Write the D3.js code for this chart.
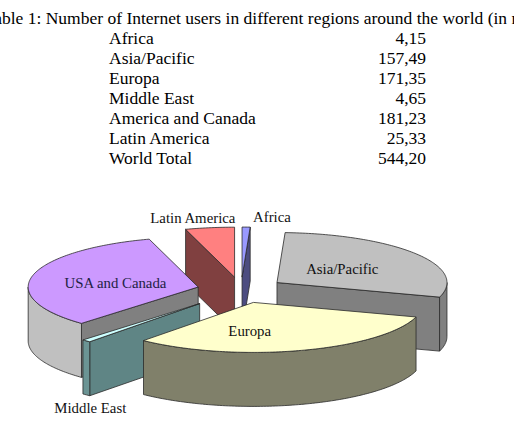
<!DOCTYPE html>
<html>
<head>
<meta charset="utf-8">
<script src="https://cdn.jsdelivr.net/npm/d3@7"></script>
<style>
  html, body { margin: 0; padding: 0; background: #fff; overflow: hidden; }
  svg { display: block; }
</style>
</head>
<body>
<svg id="chart" width="514" height="428"></svg>
<script>
// ---------- data ----------
const titleText = "Table 1: Number of Internet users in different regions around the world (in millions)";
const tableRegions = ["Africa", "Asia/Pacific", "Europa", "Middle East", "America and Canada", "Latin America", "World Total"];
const tableValues = ["4,15", "157,49", "171,35", "4,65", "181,23", "25,33", "544,20"];
const sliceNames = ["Africa", "Asia/Pacific", "Europa", "Middle East", "USA and Canada", "Latin America"];
const sliceValues = [4.15, 157.49, 171.35, 4.65, 181.23, 25.33];

// ---------- styles ----------
const topColors   = ["#9999FF", "#C0C0C0", "#FFFFCC", "#CCFFFF", "#CC99FF", "#FF8080"];
const radColors   = ["#4C4C80", "#808080", "#80806A", "#5F8585", "#808080", "#804040"];
const wallColors  = ["#4C4C80", "#808080", "#80806A", "#6B9494", "#C0C0C0", "#804040"];
const explode     = [44, 44, 44, 62, 44, 44];
const labelR      = [1.2, 0.47, 0.59, 1.0, 0.5, 1.2];
const labelDx     = [25, 0, -32, 4, 0, -12];
const labelDy     = [0, 0, 0, 67, 2, 0];
const labelColor  = ["#111", "#111", "#111", "#111", "#222244", "#111"];

const svg = d3.select("#chart");
const serif = "'Liberation Serif', 'Times New Roman', serif";
const tableFont = 17.5;

// ---------- table ----------
const title = svg.append("text")
  .attr("y", 24).attr("font-family", serif).attr("font-size", tableFont).attr("fill", "#000");
const tmp = svg.append("text").attr("font-family", serif).attr("font-size", tableFont).text("Ta");
const taW = tmp.node().getComputedTextLength();
tmp.remove();
title.attr("x", 2 - taW).text(titleText);

const rowY = d3.scaleLinear().domain([0, 1]).range([44, 64]);
svg.append("g").selectAll("text").data(tableRegions).join("text")
  .attr("x", 109).attr("y", (d, i) => rowY(i))
  .attr("font-family", serif).attr("font-size", tableFont).attr("fill", "#000")
  .text(d => d);
svg.append("g").selectAll("text").data(tableValues).join("text")
  .attr("x", 426).attr("y", (d, i) => rowY(i)).attr("text-anchor", "end")
  .attr("font-family", serif).attr("font-size", tableFont).attr("fill", "#000")
  .text(d => d);

// ---------- 3D pie ----------
const cx = 241, cy = 290, rx = 170, ry = 50, depth = 54;
const pie = d3.pie().sort(null).value(d => d);
const arcs = pie(sliceValues);

const px = (a, r) => r * rx * Math.sin(a);
const py = (a, r) => -r * ry * Math.cos(a);

const slices = arcs.map((d, i) => {
  const mid = (d.startAngle + d.endAngle) / 2;
  const ox = cx + explode[i] * Math.sin(mid);
  const oy = cy - explode[i] * (ry / rx) * Math.cos(mid);
  const a1 = d.startAngle, a2 = d.endAngle;
  const n = Math.max(2, Math.ceil((a2 - a1) / (Math.PI / 180)));
  const arcPts = d3.range(n + 1).map(k => {
    const a = a1 + (a2 - a1) * k / n;
    return [ox + px(a, 1), oy + py(a, 1)];
  });
  const front = d3.max(arcPts, p => p[1]);
  return { i, a1, a2, mid, ox, oy, arcPts, front };
});

const g = svg.append("g");
const stroke = "#2a2a2a", sw = 0.8;
const poly = pts => "M" + pts.map(p => p[0].toFixed(2) + "," + p[1].toFixed(2)).join("L") + "Z";

slices.slice().sort((a, b) => a.front - b.front).forEach(s => {
  const i = s.i;
  const P = [s.ox, s.oy];
  // radial faces (back-face culled)
  [[s.a1, s.a1 - Math.PI / 2], [s.a2, s.a2 + Math.PI / 2]].forEach(([a, nrm]) => {
    if (-Math.cos(nrm) > 1e-6) {
      const O = [s.ox + px(a, 1), s.oy + py(a, 1)];
      g.append("path")
        .attr("d", poly([P, O, [O[0], O[1] + depth], [P[0], P[1] + depth]]))
        .attr("fill", radColors[i]).attr("stroke", stroke).attr("stroke-width", sw)
        .attr("stroke-linejoin", "round");
    }
  });
  // outer wall, front half only
  const w1 = Math.max(s.a1, Math.PI / 2), w2 = Math.min(s.a2, 3 * Math.PI / 2);
  if (w2 > w1) {
    const m = Math.max(2, Math.ceil((w2 - w1) / (Math.PI / 180)));
    const topPts = d3.range(m + 1).map(k => {
      const a = w1 + (w2 - w1) * k / m;
      return [s.ox + px(a, 1), s.oy + py(a, 1)];
    });
    const botPts = topPts.map(p => [p[0], p[1] + depth]).reverse();
    g.append("path")
      .attr("d", poly(topPts.concat(botPts)))
      .attr("fill", wallColors[i]).attr("stroke", stroke).attr("stroke-width", sw)
      .attr("stroke-linejoin", "round");
  }
  // top face
  g.append("path")
    .attr("d", poly([P].concat(s.arcPts)))
    .attr("fill", topColors[i]).attr("stroke", stroke).attr("stroke-width", sw)
    .attr("stroke-linejoin", "round");
});

// labels
svg.append("g").selectAll("text").data(slices).join("text")
  .attr("x", s => s.ox + px(s.mid, labelR[s.i]) + labelDx[s.i])
  .attr("y", s => s.oy + py(s.mid, labelR[s.i]) + labelDy[s.i])
  .attr("dy", "0.35em")
  .attr("text-anchor", "middle")
  .attr("font-family", serif).attr("font-size", 14.8)
  .attr("fill", s => labelColor[s.i])
  .text(s => sliceNames[s.i]);
</script>
</body>
</html>
